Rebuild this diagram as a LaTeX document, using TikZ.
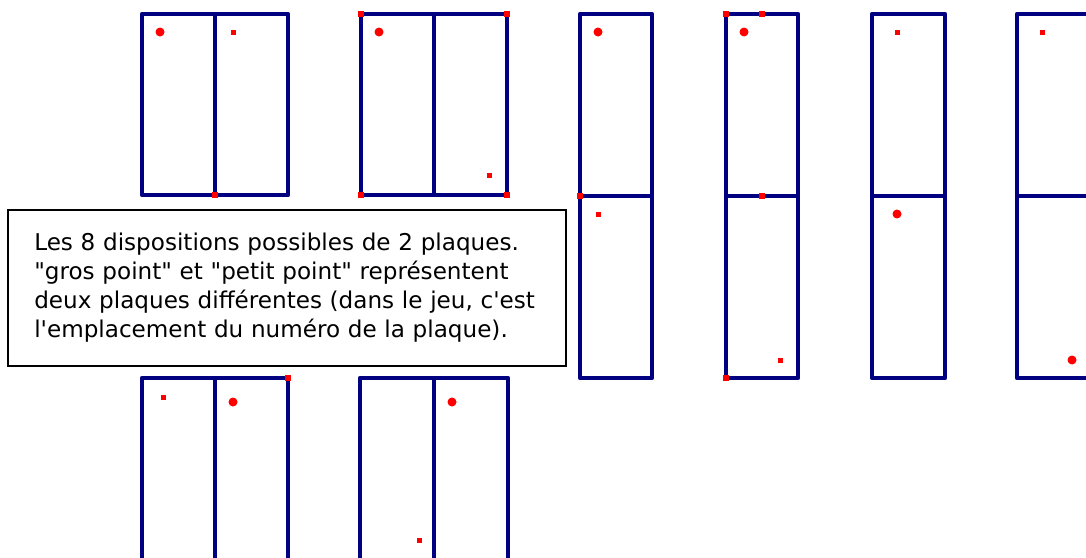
\documentclass[tikz,border=0pt]{standalone}
\usepackage{fontspec}
\newfontfamily\legendfont{DejaVu Sans}
\definecolor{navy}{RGB}{0,0,128}
\definecolor{pt}{RGB}{255,0,0}
\tikzset{
  plate/.style={draw=navy,line width=4.2pt,line join=round},
  bigdot/.style={fill=pt},
  legendbox/.style={draw=black,line width=1.6pt,anchor=north west,
    minimum width=558pt,minimum height=156pt,text width=505pt,
    inner xsep=24pt,inner ysep=0pt,align=left,
    font=\legendfont\fontsize{23.1pt}{29pt}\selectfont},
  pics/sq/.style={code={\fill[pt] (-2.5,-2.5) rectangle (2.5,2.5);}},
  pics/csq/.style={code={\fill[pt] (-3,-3) rectangle (3,3);}}
}
\begin{document}
\begin{tikzpicture}[x=1pt,y=-1pt]
\useasboundingbox (0,0) rectangle (1086,557);
\fill[white] (0,0) rectangle (1086,557);

% 1
\draw[plate] (142,14) rectangle (288,195) (215,14) -- (215,195);
\fill[bigdot] (160,32) circle (4.5);
\pic at (233,32) {sq};
\pic at (215,195) {csq};

% 2
\draw[plate] (361,14) rectangle (507,195) (434,14) -- (434,195);
\fill[bigdot] (379,32) circle (4.5);
\pic at (489,175) {sq};
\pic at (361,14) {csq};
\pic at (507,14) {csq};
\pic at (361,195) {csq};
\pic at (507,195) {csq};

% 3
\draw[plate] (580,14) rectangle (652,378) (580,196) -- (652,196);
\fill[bigdot] (598,32) circle (4.5);
\pic at (598,214) {sq};
\pic at (580,196) {csq};

% 4
\draw[plate] (726,14) rectangle (798,378) (726,196) -- (798,196);
\fill[bigdot] (744,32) circle (4.5);
\pic at (780,360) {sq};
\pic at (726,14) {csq};
\pic at (762,14) {csq};
\pic at (762,196) {csq};
\pic at (726,378) {csq};

% 5
\draw[plate] (872,14) rectangle (945,378) (872,196) -- (945,196);
\pic at (897,32) {sq};
\fill[bigdot] (897,214) circle (4.5);

% 6
\draw[plate] (1017,14) rectangle (1090,378) (1017,196) -- (1090,196);
\pic at (1042,32) {sq};
\fill[bigdot] (1072,360) circle (4.5);

% 7
\draw[plate] (142,378) rectangle (288,560) (215,378) -- (215,560);
\pic at (163,397) {sq};
\fill[bigdot] (233,402) circle (4.5);
\pic at (288,378) {csq};

% 8
\draw[plate] (360,378) rectangle (508,560) (434,378) -- (434,560);
\fill[bigdot] (452,402) circle (4.5);
\pic at (419,540) {sq};

% legend
\node[legendbox,fill=white] (legend) at (7,209) {Les 8 dispositions possibles de 2 plaques.\\
"gros point" et "petit point" représentent\\
deux plaques différentes (dans le jeu, c'est\\
l'emplacement du numéro de la plaque).};
\end{tikzpicture}
\end{document}
